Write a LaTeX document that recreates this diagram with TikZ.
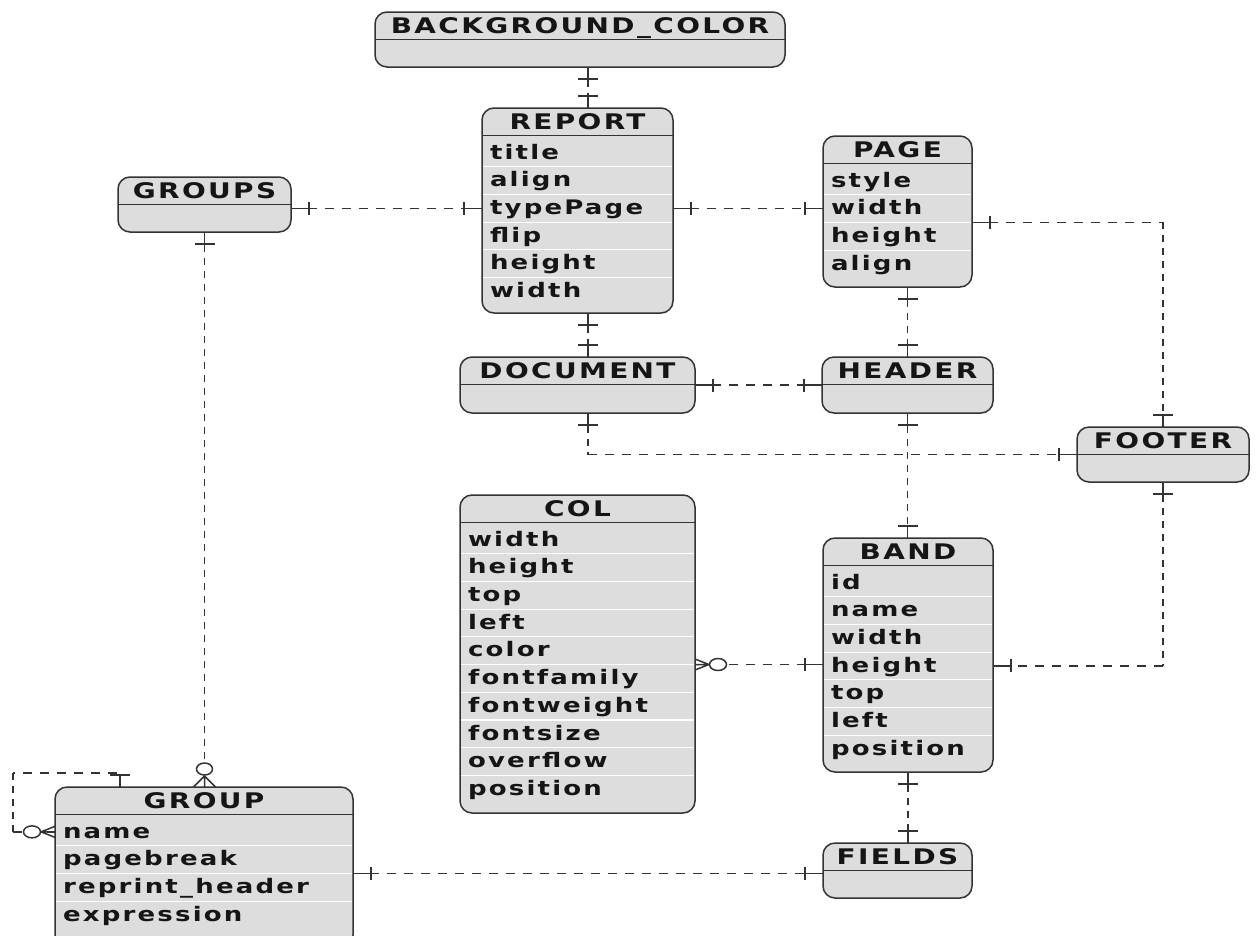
\documentclass[tikz,border=0pt]{standalone}
\usepackage{fontspec}
\setmainfont{DejaVu Sans Bold}[FakeStretch=1.3,LetterSpace=11]
\usetikzlibrary{calc}
\definecolor{boxfill}{HTML}{DDDDDD}
\definecolor{boxline}{HTML}{333333}
\definecolor{ink}{HTML}{151515}

% entity with attribute rows: id, x, y, width, height, title, rows
\newcommand\entity[7]{%
  \node[ebox, minimum width=#4pt, minimum height=#5pt, anchor=north west] (#1) at (#2,#3) {};
  \node[etitle, minimum width=#4pt, anchor=north] (#1-t) at (#1.north) {#6};
  \draw[boxline, line width=1.5pt] (#1-t.south west) -- (#1-t.south east);
  \pgfmathsetmacro\rowtw{#4-16}
  \foreach \r [count=\i] in {#7} {
    \node[erow, text width=\rowtw pt, anchor=north west] (#1-\i)
      at ([yshift={-3.5pt-(\i-1)*27.7pt}]#1-t.south west) {\r};
    \ifnum\i>1
      \draw[white, line width=1.2pt] ([xshift=1pt]#1-\i.north west) -- ([xshift=-1pt]#1-\i.north east);
    \fi
  }
}
% entity without attributes: id, x, y, width, height, title
\newcommand\plainentity[6]{%
  \node[ebox, minimum width=#4pt, minimum height=#5pt, anchor=north west] (#1) at (#2,#3) {};
  \node[etitle, minimum width=#4pt, anchor=north] (#1-t) at (#1.north) {#6};
  \draw[boxline, line width=1.5pt] (#1-t.south west) -- (#1-t.south east);
}

\tikzset{
  ebox/.style={draw=boxline, line width=1.5pt, fill=boxfill, rounded corners=12pt,
    inner sep=0pt, outer sep=0pt},
  etitle/.style={inner sep=0pt, outer sep=0pt, minimum height=27.5pt, text=ink,
    font=\fontsize{21.5}{21.5}\selectfont, text height=15.7pt, text depth=0pt},
  erow/.style={inner xsep=8pt, inner ysep=0pt, outer sep=0pt, minimum height=27.7pt,
    align=left, text=ink, font=\fontsize{20}{20}\selectfont, text height=16.5pt, text depth=4pt},
  endmark/.style={draw=boxline, line width=1.5pt, solid},
  relh/.style={draw=boxline, line width=1.5pt, dash pattern=on 9pt off 8pt},
  relv/.style={draw=boxline, line width=1.5pt, dash pattern=on 7pt off 6pt},
  one h/.pic={\draw[endmark] (0,0) -- (18,0) (18,-6.5) -- (18,6.5);},
  one v/.pic={\draw[endmark] (0,0) -- (0,12) (-10,12) -- (10,12);},
  many h/.pic={\draw[endmark] (0,-5.5) -- (14,0) -- (0,5.5) (0,0) -- (14,0);
    \draw[endmark, fill=white] (23,0) ellipse [x radius=8.5, y radius=6];},
  many v/.pic={\draw[endmark] (-11,0) -- (0,11) -- (11,0) (0,0) -- (0,11);
    \draw[endmark, fill=white] (0,18) ellipse [x radius=8, y radius=6];},
}

\begin{document}
\begin{tikzpicture}[x=1pt,y=-1pt]
\useasboundingbox (0,0) rectangle (1257,935);
\fill[white] (0,0) rectangle (1257,935);
\clip (0,0) rectangle (1257,935);

% ---- entities ----
\plainentity{bg}{375}{12}{410}{55}{BACKGROUND\_COLOR}
\entity{report}{482}{108}{191}{205}{REPORT}{title,align,typePage,flip,height,width}
\plainentity{groups}{118}{177}{173}{55}{GROUPS}
\entity{page}{823}{136}{149}{151}{PAGE}{style,width,height,align}
\plainentity{document}{460}{357}{235}{56}{DOCUMENT}
\plainentity{header}{822}{357}{171}{56}{HEADER}
\plainentity{footer}{1077}{427}{172}{55}{FOOTER}
\entity{col}{460}{495}{235}{318}{COL}{width,height,top,left,color,fontfamily,fontweight,fontsize,overflow,position}
\entity{band}{823}{538}{170}{234}{BAND}{id,name,width,height,top,left,position}
\entity{group}{55}{787}{298}{160}{GROUP}{name,pagebreak,reprint\_header,expression}
\plainentity{fields}{823}{843}{149}{55}{FIELDS}

% ---- relationships ----
\coordinate (rlane) at ([xshift=10.5pt]report.north);

% BACKGROUND_COLOR -- REPORT
\draw[relv] (bg.south -| rlane) -- (rlane);
\pic at (bg.south -| rlane) {one v};
\pic[yscale=-1] at (rlane) {one v};

% GROUPS -- REPORT
\draw[relh] (groups.east |- report-3.west) -- (report-3.west);
\pic at (groups.east |- report-3.west) {one h};
\pic[xscale=-1] at (report-3.west) {one h};

% REPORT -- PAGE
\draw[relh] (report-3.east) -- (report-3.east -| page.west);
\pic at (report-3.east) {one h};
\pic[xscale=-1] at (report-3.east -| page.west) {one h};

% PAGE -- FOOTER
\draw[relh] (page-3.north east) -- (page-3.north east -| footer.north);
\draw[relv] (page-3.north east -| footer.north) -- (footer.north);
\pic at (page-3.north east) {one h};
\pic[yscale=-1] at (footer.north) {one v};

% PAGE -- HEADER
\draw[relv] (page.south -| header.north) -- (header.north);
\pic at (page.south -| header.north) {one v};
\pic[yscale=-1] at (header.north) {one v};

% REPORT -- DOCUMENT
\draw[relv] (report.south -| rlane) -- (document.north -| rlane);
\pic at (report.south -| rlane) {one v};
\pic[yscale=-1] at (document.north -| rlane) {one v};

% DOCUMENT -- HEADER
\draw[relh] (document.east) -- (header.west);
\pic at (document.east) {one h};
\pic[xscale=-1] at (header.west) {one h};

% DOCUMENT -- FOOTER
\draw[relv] (document.south -| rlane) -- (footer.west -| rlane);
\draw[relh] (footer.west -| rlane) -- (footer.west);
\pic at (document.south -| rlane) {one v};
\pic[xscale=-1] at (footer.west) {one h};

% HEADER -- BAND
\draw[relv] (header.south) -- (header.south |- band.north);
\pic at (header.south) {one v};
\pic[yscale=-1] at (header.south |- band.north) {one v};

% FOOTER -- BAND
\draw[relv] (footer.south) -- (footer.south |- band-4.east);
\draw[relh] (footer.south |- band-4.east) -- (band-4.east);
\pic at (footer.south) {one v};
\pic at (band-4.east) {one h};

% COL -- BAND
\draw[relh] (col-5.south east) -- (col-5.south east -| band.west);
\pic at (col-5.south east) {many h};
\pic[xscale=-1] at (col-5.south east -| band.west) {one h};

% BAND -- FIELDS
\draw[relv] (band.south) -- (band.south |- fields.north);
\pic at (band.south) {one v};
\pic[yscale=-1] at (band.south |- fields.north) {one v};

% GROUP -- FIELDS
\draw[relh] (group-2.south east) -- (group-2.south east -| fields.west);
\pic at (group-2.south east) {one h};
\pic[xscale=-1] at (group-2.south east -| fields.west) {one h};

% GROUPS -- GROUP
\draw[relv] (groups.south) -- (groups.south |- group.north);
\pic at (groups.south) {one v};
\pic[yscale=-1] at (groups.south |- group.north) {many v};

% GROUP -- GROUP (nested groups)
\coordinate (gloop) at ([xshift=-84pt]group.north);
\coordinate (lp1) at ($(gloop)+(0,-14)$);
\coordinate (lp2) at ($(group-1.west)+(-42,0)$);
\draw[relh] (gloop) -- (lp1) -- (lp1 -| lp2);
\draw[relv] (lp1 -| lp2) -- (lp2);
\draw[relh] (lp2) -- (group-1.west);
\pic[yscale=-1] at (gloop) {one v};
\pic[xscale=-1] at (group-1.west) {many h};
\end{tikzpicture}
\end{document}
